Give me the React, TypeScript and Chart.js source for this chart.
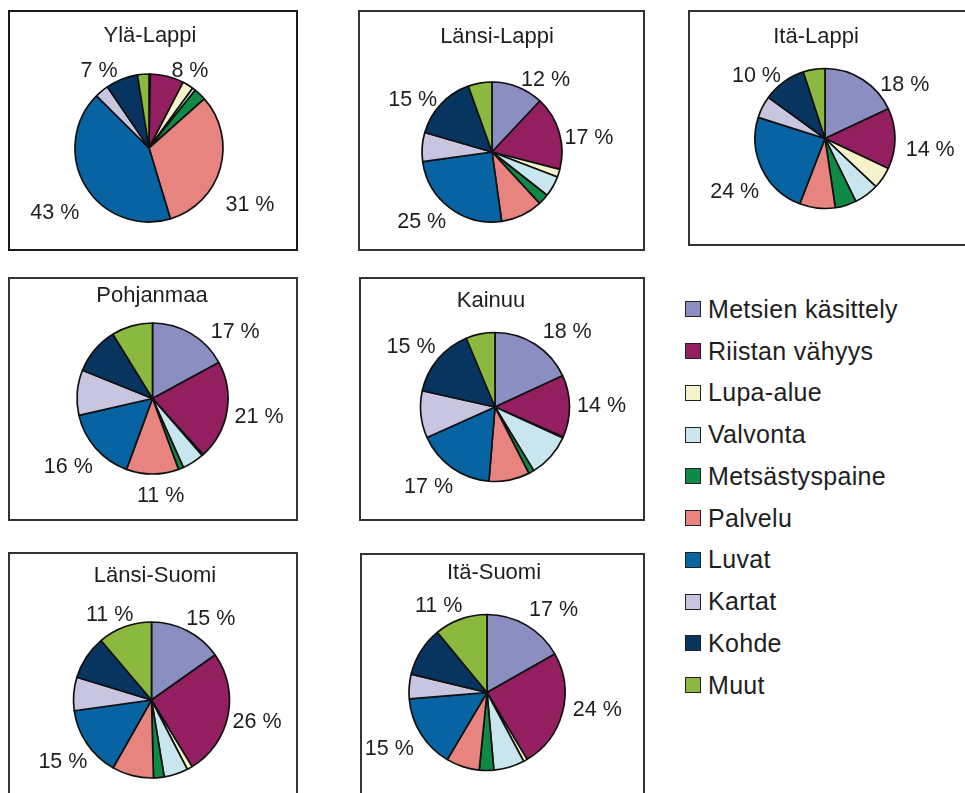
import React, { useEffect, useRef } from "react";
import { Chart, registerables } from "chart.js";
Chart.register(...registerables);

const FONT = '"Liberation Sans", Arial, Helvetica, sans-serif';

const categories = [
  "Metsien käsittely",
  "Riistan vähyys",
  "Lupa-alue",
  "Valvonta",
  "Metsästyspaine",
  "Palvelu",
  "Luvat",
  "Kartat",
  "Kohde",
  "Muut",
];
const colors = [
  "#8a8ec0",
  "#941f60",
  "#f6f3cb",
  "#c9e5ee",
  "#0e8a44",
  "#e8847f",
  "#0763a1",
  "#c8c5e0",
  "#07355f",
  "#8bb83f",
];

// slice shares, in category order
const ylaLappi = [0.3, 7.3, 2.4, 0.7, 2.7, 31.8, 42, 3, 7, 2.5];
const lansiLappi = [12, 17, 1.8, 4.8, 2.5, 9.7, 25, 6.7, 15, 5.5];
const itaLappi = [18, 14, 5, 5.7, 4.9, 8.2, 24, 5.1, 10, 5];
const pohjanmaa = [17.1, 21.2, 0.3, 4.7, 1.1, 11.2, 15.8, 9.7, 10.1, 8.8];
const kainuu = [18.1, 13.5, 0.2, 9.5, 1.2, 8.8, 17, 10.2, 15.2, 6.3];
const lansiSuomi = [15.2, 26.1, 1.1, 5, 2.2, 8.6, 14.6, 6.9, 9.1, 11.2];
const itaSuomi = [16.8, 24.6, 0.8, 6.4, 3, 6.9, 15.2, 5.1, 10.2, 11];

// printed percent labels (null = not labelled)
const ylaLappiPct = [null, 8, null, null, null, 31, 43, null, 7, null];
const lansiLappiPct = [12, 17, null, null, null, null, 25, null, 15, null];
const itaLappiPct = [18, 14, null, null, null, null, 24, null, 10, null];
const pohjanmaaPct = [17, 21, null, null, null, 11, 16, null, null, null];
const kainuuPct = [18, 14, null, null, null, null, 17, null, 15, null];
const lansiSuomiPct = [15, 26, null, null, null, null, 15, null, null, 11];
const itaSuomiPct = [17, 24, null, null, null, null, 15, null, null, 11];

// label placement: slice index -> [angle from top (deg, clockwise), distance in radii]
const ylaLappiPlace: Record<number, [number, number]> = { 1: [27.7, 1.19], 5: [119, 1.56], 6: [235.7, 1.54], 8: [327.3, 1.25] };
const lansiLappiPlace: Record<number, [number, number]> = { 0: [36.4, 1.29], 1: [81.5, 1.4], 6: [225.4, 1.41], 8: [303.6, 1.36] };
const itaLappiPlace: Record<number, [number, number]> = { 0: [55.7, 1.38], 1: [95.7, 1.51], 6: [240, 1.49], 8: [312.6, 1.33] };
const pohjanmaaPlace: Record<number, [number, number]> = { 0: [51, 1.41], 1: [99.2, 1.43], 5: [175.2, 1.28], 6: [231.3, 1.43] };
const kainuuPlace: Record<number, [number, number]> = { 0: [43.4, 1.41], 1: [88.9, 1.43], 6: [219.9, 1.39], 8: [305.9, 1.39] };
const lansiSuomiPlace: Record<number, [number, number]> = { 0: [35.8, 1.3], 1: [101.3, 1.38], 6: [235.4, 1.38], 9: [334.1, 1.23] };
const itaSuomiPlace: Record<number, [number, number]> = { 0: [38.5, 1.37], 1: [98.7, 1.43], 6: [240.5, 1.44], 9: [331, 1.28] };

type Panel = {
  title: string;
  values: number[];
  pct: (number | null)[];
  place: Record<number, [number, number]>;
  box: { x: number; y: number; w: number; h: number };
  cx: number;
  cy: number;
  r: number;
  titleX: number;
  titleY: number;
  bw: number;
  bc: string;
};

const panels: Panel[] = [
  { title: "Ylä-Lappi", values: ylaLappi, pct: ylaLappiPct, place: ylaLappiPlace, box: { x: 8, y: 10, w: 290, h: 241 }, cx: 149, cy: 148, r: 74, titleX: 150, titleY: 42, bw: 2.5, bc: "#1a1a1a" },
  { title: "Länsi-Lappi", values: lansiLappi, pct: lansiLappiPct, place: lansiLappiPlace, box: { x: 358, y: 10, w: 287, h: 241 }, cx: 492, cy: 152, r: 70, titleX: 497, titleY: 43, bw: 2, bc: "#333" },
  { title: "Itä-Lappi", values: itaLappi, pct: itaLappiPct, place: itaLappiPlace, box: { x: 688, y: 10, w: 292, h: 236 }, cx: 825, cy: 138.5, r: 70, titleX: 816, titleY: 43, bw: 2, bc: "#333" },
  { title: "Pohjanmaa", values: pohjanmaa, pct: pohjanmaaPct, place: pohjanmaaPlace, box: { x: 8, y: 277, w: 290, h: 244 }, cx: 152.5, cy: 398.5, r: 75.5, titleX: 152, titleY: 302, bw: 2, bc: "#333" },
  { title: "Kainuu", values: kainuu, pct: kainuuPct, place: kainuuPlace, box: { x: 359, y: 277, w: 286, h: 244 }, cx: 495, cy: 407, r: 74.5, titleX: 491, titleY: 307, bw: 2, bc: "#333" },
  { title: "Länsi-Suomi", values: lansiSuomi, pct: lansiSuomiPct, place: lansiSuomiPlace, box: { x: 8, y: 552, w: 290, h: 260 }, cx: 151.5, cy: 700, r: 78, titleX: 155, titleY: 582, bw: 2, bc: "#333" },
  { title: "Itä-Suomi", values: itaSuomi, pct: itaSuomiPct, place: itaSuomiPlace, box: { x: 360, y: 553, w: 285, h: 260 }, cx: 487, cy: 692.5, r: 78, titleX: 494, titleY: 579, bw: 2, bc: "#333" },
];

const pieLabelPlugin = {
  id: "pieLabels",
  afterDraw(chart: any, _args: any, opts: any) {
    const ctx = chart.ctx;
    const meta = chart.getDatasetMeta(0);
    const arc = meta.data[0];
    if (!arc) return;
    const { x, y, outerRadius } = arc.getProps(["x", "y", "outerRadius"], true);
    ctx.save();
    ctx.fillStyle = "#1e1e1e";
    ctx.font = `22px ${FONT}`;
    ctx.textAlign = "center";
    ctx.textBaseline = "alphabetic";
    ctx.fillText(opts.title, opts.titleX, opts.titleY);
    ctx.font = `21.5px ${FONT}`;
    ctx.textBaseline = "middle";
    (opts.pct as (number | null)[]).forEach((v, i) => {
      if (v == null) return;
      const pl = opts.place[i];
      if (!pl) return;
      const a = (pl[0] * Math.PI) / 180;
      const d = pl[1] * outerRadius;
      ctx.fillText(`${v} %`, x + d * Math.sin(a), y - d * Math.cos(a) + 1);
    });
    ctx.restore();
  },
};

function PiePanel({ p }: { p: Panel }) {
  const ref = useRef<HTMLCanvasElement>(null);
  useEffect(() => {
    const cv = ref.current!;
    const { box, cx, cy, r } = p;
    const lx = cx - box.x;
    const ly = cy - box.y;
    const s = Math.min(lx, box.w - lx, ly, box.h - ly) - 2;
    const chart = new Chart(cv, {
      type: "pie",
      data: {
        labels: categories,
        datasets: [
          {
            data: p.values,
            backgroundColor: colors,
            borderColor: "#111",
            borderWidth: 1.7,
          },
        ],
      },
      options: {
        responsive: false,
        animation: false,
        radius: r,
        events: [],
        layout: {
          padding: { left: lx - s, right: box.w - lx - s, top: ly - s, bottom: box.h - ly - s },
        },
        plugins: {
          legend: { display: false },
          tooltip: { enabled: false },
          pieLabels: {
            title: p.title,
            titleX: p.titleX - box.x,
            titleY: p.titleY - box.y,
            pct: p.pct,
            place: p.place,
          },
        } as any,
      } as any,
      plugins: [pieLabelPlugin],
    });
    return () => chart.destroy();
  }, []);
  return (
    <>
      <div
        style={{
          position: "absolute",
          left: p.box.x,
          top: p.box.y,
          width: p.box.w,
          height: p.box.h,
          border: `${p.bw}px solid ${p.bc}`,
          boxSizing: "border-box",
        }}
      />
      <canvas
        ref={ref}
        width={p.box.w}
        height={p.box.h}
        style={{ position: "absolute", left: p.box.x, top: p.box.y, width: p.box.w, height: p.box.h }}
      />
    </>
  );
}

function Legend() {
  return (
    <div style={{ position: "absolute", left: 685, top: 288.6, fontFamily: FONT, fontSize: 25, letterSpacing: 0.3, color: "#1e1e1e" }}>
      {categories.map((c, i) => (
        <div key={c} style={{ height: 41.75, display: "flex", alignItems: "center", whiteSpace: "nowrap" }}>
          <span
            style={{
              display: "inline-block",
              width: 16,
              height: 16,
              boxSizing: "border-box",
              background: colors[i],
              border: "1.5px solid #222",
              marginRight: 7,
            }}
          />
          <span style={{ lineHeight: "25px" }}>{c}</span>
        </div>
      ))}
    </div>
  );
}

export default function App() {
  return (
    <div
      style={{
        position: "absolute",
        left: 0,
        top: 0,
        width: 965,
        height: 793,
        overflow: "hidden",
        background: "#fff",
      }}
    >
      {panels.map((p) => (
        <PiePanel key={p.title} p={p} />
      ))}
      <Legend />
    </div>
  );
}
